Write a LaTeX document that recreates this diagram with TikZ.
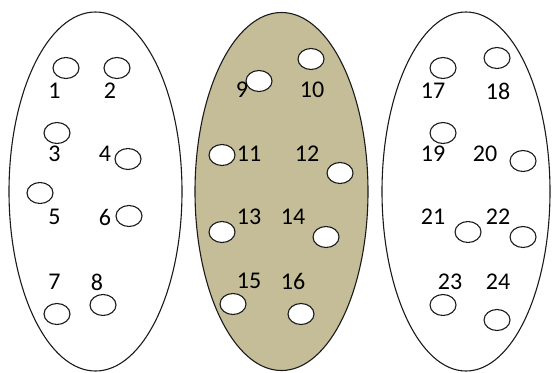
\documentclass[tikz,border=0pt]{standalone}
\usepackage{fontspec}
\setmainfont{Carlito}
\definecolor{tan}{HTML}{C4BD97}
\definecolor{linegray}{HTML}{1A1A1A}
\begin{document}
\begin{tikzpicture}[x=1bp,y=-1bp,
  bigset/.style={draw=linegray,line width=1.1bp},
  dot/.style={draw=linegray,line width=1.1bp,fill=white},
  num/.style={inner sep=0pt,font=\fontsize{24bp}{24bp}\selectfont,text=black}]
\useasboundingbox (0,0) rectangle (552,372);
% sets
\draw[bigset] (95.5,191.5) ellipse [x radius=86.5bp, y radius=179.5bp];
\draw[bigset,fill=tan] (281.5,191.5) ellipse [x radius=86.5bp, y radius=179bp];
\draw[bigset] (466,191.5) ellipse [x radius=84bp, y radius=179.5bp];
% left set
\draw[dot] (66,68) ellipse [x radius=13bp, y radius=10.5bp];
\draw[dot] (117,68) ellipse [x radius=13bp, y radius=10.5bp];
\draw[dot] (57,133) ellipse [x radius=13bp, y radius=10.5bp];
\draw[dot] (128,159) ellipse [x radius=13bp, y radius=10.5bp];
\draw[dot] (40,193) ellipse [x radius=13bp, y radius=10.5bp];
\draw[dot] (129,216) ellipse [x radius=13bp, y radius=10.5bp];
\draw[dot] (57,314) ellipse [x radius=13bp, y radius=10.5bp];
\draw[dot] (103,305) ellipse [x radius=13bp, y radius=10.5bp];
\node[num] (n1) at (54.5,91) {1};
\node[num] (n2) at (110,91) {2};
\node[num] (n3) at (54.5,154) {3};
\node[num] (n4) at (105,154) {4};
\node[num] (n5) at (54.5,217) {5};
\node[num] (n6) at (105,217) {6};
\node[num] (n7) at (54.5,282) {7};
\node[num] (n8) at (97,282) {8};
% middle set
\draw[dot] (259,81) ellipse [x radius=13bp, y radius=10.5bp];
\draw[dot] (311,59) ellipse [x radius=13bp, y radius=10.5bp];
\draw[dot] (222,155) ellipse [x radius=13bp, y radius=10.5bp];
\draw[dot] (340,173) ellipse [x radius=13bp, y radius=10.5bp];
\draw[dot] (222,232) ellipse [x radius=13bp, y radius=10.5bp];
\draw[dot] (326,237) ellipse [x radius=13bp, y radius=10.5bp];
\draw[dot] (233,304) ellipse [x radius=13bp, y radius=10.5bp];
\draw[dot] (301,314) ellipse [x radius=13bp, y radius=10.5bp];
\node[num] (n9) at (242,90) {9};
\node[num] (n10) at (312,90) {10};
\node[num] (n11) at (249,154) {11};
\node[num] (n12) at (307,154) {12};
\node[num] (n13) at (249,217) {13};
\node[num] (n14) at (293,217) {14};
\node[num] (n15) at (249,281) {15};
\node[num] (n16) at (293,281) {16};
% right set
\draw[dot] (443,68) ellipse [x radius=13bp, y radius=10.5bp];
\draw[dot] (497,58) ellipse [x radius=13bp, y radius=10.5bp];
\draw[dot] (443,133) ellipse [x radius=13bp, y radius=10.5bp];
\draw[dot] (523,161) ellipse [x radius=13bp, y radius=10.5bp];
\draw[dot] (468,232) ellipse [x radius=13bp, y radius=10.5bp];
\draw[dot] (523,237) ellipse [x radius=13bp, y radius=10.5bp];
\draw[dot] (443,305) ellipse [x radius=13bp, y radius=10.5bp];
\draw[dot] (497,320) ellipse [x radius=13bp, y radius=10.5bp];
\node[num] (n17) at (433,91) {17};
\node[num] (n18) at (498,91) {18};
\node[num] (n19) at (433,154) {19};
\node[num] (n20) at (485,154) {20};
\node[num] (n21) at (433,217) {21};
\node[num] (n22) at (498,217) {22};
\node[num] (n23) at (450,282) {23};
\node[num] (n24) at (498,282) {24};
\end{tikzpicture}
\end{document}
